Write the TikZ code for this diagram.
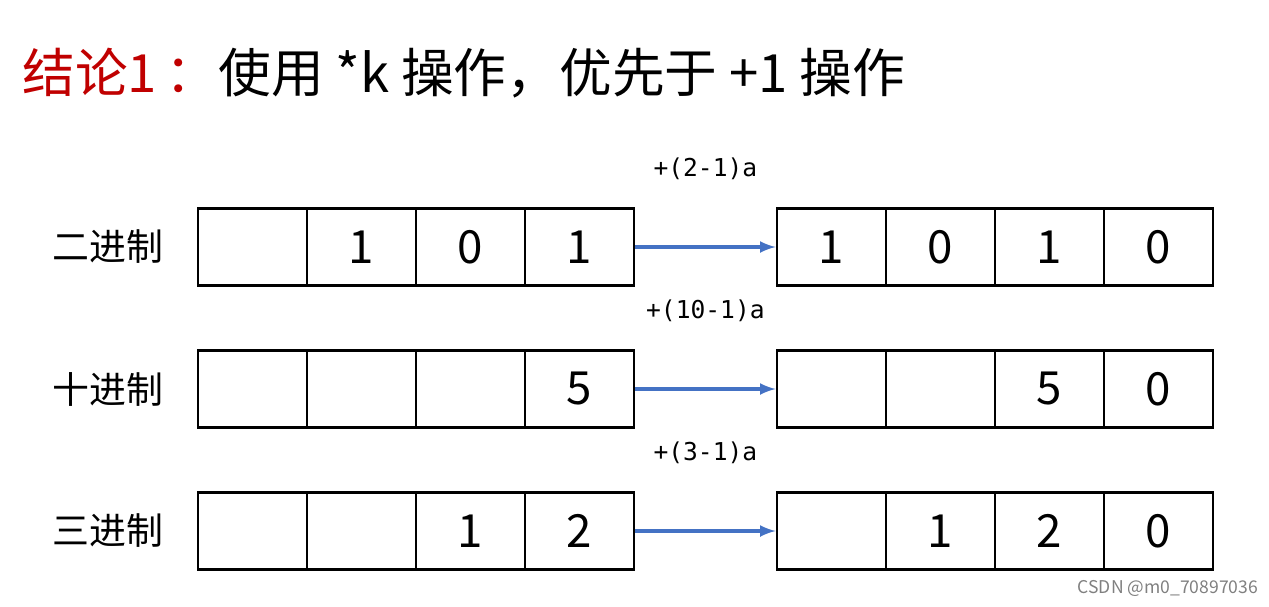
\documentclass[tikz,border=0pt]{standalone}
\usepackage{fontspec}
\setmainfont{Noto Sans CJK SC}
\newfontfamily\cjk{Noto Sans CJK SC}
\newfontfamily\monof{DejaVu Sans Mono}
\usepackage{tikz}
\usetikzlibrary{positioning}
\definecolor{titlered}{HTML}{C00000}
\definecolor{arrowblue}{HTML}{4472C4}
\tikzset{
    cell/.style={draw=black, line width=1.6pt, minimum width=2.18cm, minimum height=1.54cm,
        inner sep=0pt, font=\fontsize{26}{26}\selectfont},
    rowname/.style={font=\cjk\fontsize{21}{21}\selectfont, anchor=center},
    shiftarrow/.style={draw=arrowblue, line width=2pt, -latex},
    oplabel/.style={font=\monof\fontsize{14}{14}\selectfont}
}
\begin{document}
\begin{tikzpicture}[x=0.02cm,y=-0.02cm]
\useasboundingbox (0,0) rectangle (1269,606);
% title
\node[anchor=base west, inner sep=0pt, font=\cjk\fontsize{30}{30}\selectfont] (title) at (22,92)
  {\textcolor{titlered}{结论1\,：}使用 *k 操作，优先于 +1 操作};
% rows
\foreach \r/\name/\ya/\op/\lhs/\rhs in {%
  1/二进制/247/{+(2-1)a}/{{},1,0,1}/{1,0,1,0},
  2/十进制/389/{+(10-1)a}/{{},{},{},5}/{{},{},5,0},
  3/三进制/531/{+(3-1)a}/{{},{},1,2}/{{},1,2,0}}{
  \node[rowname] (name\r) at (108,\ya) {\name};
  \foreach \d [count=\i] in \lhs
    \node[cell] (l\r\i) at (252.5+109*\i-109,\ya) {\d};
  \foreach \d [count=\i] in \rhs
    \node[cell] (g\r\i) at (831.5+109*\i-109,\ya) {\d};
  \draw[shiftarrow] (l\r4.east) -- (g\r1.west);
  \node[oplabel, above=12pt of l\r4.north east, xshift=70*0.02cm, anchor=south] (op\r) {\op};
}
\node[anchor=south east, inner sep=2pt, text=gray, font=\fontsize{10}{10}\selectfont] (mark) at (1262,600) {CSDN @m0\_70897036};
\end{tikzpicture}
\end{document}
